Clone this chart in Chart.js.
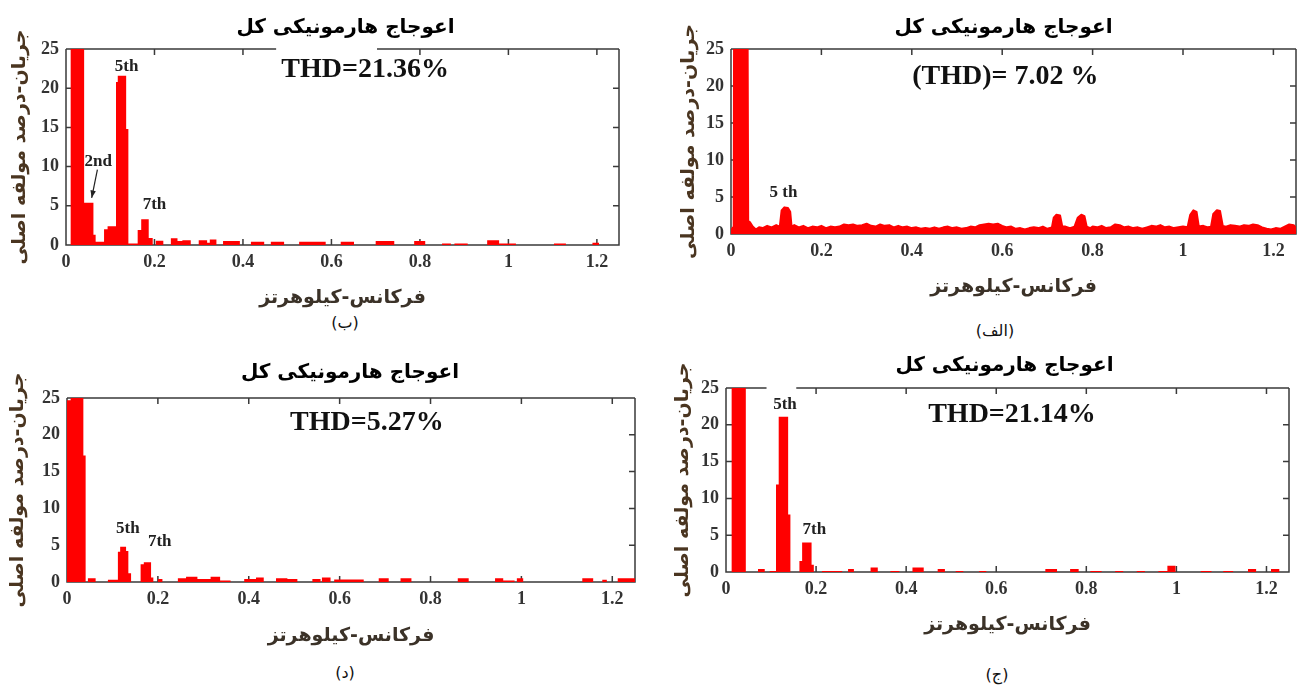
<!DOCTYPE html>
<html>
<head>
<meta charset="utf-8">
<script src="https://cdn.jsdelivr.net/npm/chart.js@4.4.1/dist/chart.umd.min.js"></script>
<style>
  body { margin: 0; background: #fff; width: 1301px; height: 689px; position: relative; overflow: hidden; }
  canvas { position: absolute; }
  .cap { position: absolute; font-family: 'DejaVu Sans', sans-serif; font-size: 16px; color: #111; transform: translate(-50%, -50%); white-space: nowrap; }
</style>
</head>
<body>
<canvas id="pB"></canvas>
<canvas id="pAlef"></canvas>
<canvas id="pD"></canvas>
<canvas id="pJ"></canvas>
<div class="cap" style="left:345px; top:322px;">(ب)</div>
<div class="cap" style="left:995px; top:330px;">(الف)</div>
<div class="cap" style="left:345px; top:672px;">(د)</div>
<div class="cap" style="left:997px; top:674px;">(ج)</div>
<script>
// محورها
const xTicks = [0, 0.2, 0.4, 0.6, 0.8, 1, 1.2];
const yTicks = [0, 5, 10, 15, 20, 25];
const xMax = 1.25;

const titleText = 'اعوجاج هارمونیکی کل';
const xTitle = 'فرکانس-کیلوهرتز';
const yTitle = 'جریان-درصد مولفه اصلی';

// (ب) - طیف پله ای: هر مقدار از فرکانس خودش تا فرکانس بعدی
const freqB = [0.010, 0.041, 0.062, 0.067, 0.086, 0.094, 0.113, 0.117, 0.136, 0.141,
               0.162, 0.170, 0.187, 0.196, 0.203, 0.220, 0.237, 0.252, 0.263, 0.282,
               0.300, 0.319, 0.325, 0.340, 0.355, 0.393, 0.418, 0.448, 0.463, 0.493,
               0.527, 0.587, 0.621, 0.651, 0.700, 0.742, 0.787, 0.812, 0.850, 0.870,
               0.878, 0.908, 0.952, 0.979, 1.017, 1.103, 1.130, 1.190, 1.205];
const magB  = [100, 5.4, 1.3, 0.4, 2.0, 2.4, 20.8, 21.6, 14.8, 0.2,
               1.9, 3.3, 0.9, 0, 0.55, 0, 0.85, 0.5, 0.6, 0,
               0.6, 0.3, 0.7, 0, 0.5, 0, 0.4, 0, 0.4, 0,
               0.4, 0, 0.4, 0, 0.5, 0, 0.5, 0, 0.2, 0,
               0.2, 0, 0.6, 0.2, 0, 0.2, 0, 0.3, 0];

// (الف) - طیف پیوسته
const freqAlef = [0, 0.006, 0.009, 0.020, 0.033, 0.038, 0.042, 0.048, 0.055, 0.062,
                  0.07, 0.08, 0.09, 0.1, 0.108, 0.112, 0.118, 0.126, 0.131, 0.134,
                  0.14, 0.15, 0.16, 0.17, 0.18, 0.19, 0.2, 0.21, 0.22, 0.23,
                  0.24, 0.25, 0.26, 0.27, 0.28, 0.29, 0.3, 0.31, 0.32, 0.33,
                  0.34, 0.35, 0.36, 0.37, 0.38, 0.39, 0.4, 0.41, 0.42, 0.43,
                  0.44, 0.45, 0.46, 0.47, 0.48, 0.49, 0.5, 0.51, 0.52, 0.53,
                  0.54, 0.55, 0.56, 0.57, 0.58, 0.59, 0.6, 0.61, 0.62, 0.63,
                  0.64, 0.65, 0.66, 0.67, 0.68, 0.69, 0.7, 0.71, 0.714, 0.72,
                  0.728, 0.733, 0.74, 0.75, 0.76, 0.767, 0.775, 0.782, 0.787, 0.795,
                  0.8, 0.81, 0.82, 0.83, 0.84, 0.85, 0.86, 0.87, 0.88, 0.89,
                  0.9, 0.91, 0.92, 0.93, 0.94, 0.95, 0.96, 0.97, 0.98, 0.99,
                  1.0, 1.01, 1.016, 1.023, 1.03, 1.035, 1.045, 1.055, 1.062, 1.067,
                  1.075, 1.082, 1.088, 1.095, 1.105, 1.115, 1.125, 1.135, 1.145, 1.155,
                  1.165, 1.175, 1.185, 1.195, 1.205, 1.215, 1.225, 1.235, 1.245, 1.25];
const magAlef  = [0.5, 1.0, 100, 100, 100, 1.8, 1.6, 1.0, 0.6, 0.9,
                  0.8, 1.1, 0.9, 1.2, 1.0, 3.2, 3.6, 3.5, 3.0, 1.0,
                  1.2, 0.9, 1.1, 0.8, 1.0, 0.9, 1.1, 0.8, 1.0, 0.9,
                  1.0, 1.3, 1.2, 1.3, 1.1, 1.2, 1.4, 1.1, 1.0, 1.3,
                  1.1, 1.2, 0.9, 1.1, 0.9, 1.0, 0.8, 0.9, 0.7, 0.8,
                  0.7, 0.9, 0.7, 0.9, 1.0, 0.8, 0.9, 0.7, 0.8, 1.0,
                  0.9, 1.2, 1.3, 1.4, 1.3, 1.4, 1.1, 0.9, 1.0, 0.7,
                  0.8, 0.6, 0.8, 0.9, 0.8, 1.0, 0.7, 0.9, 2.2, 2.6,
                  2.5, 1.0, 1.0, 0.8, 1.0, 2.2, 2.6, 2.4, 1.0, 0.8,
                  1.0, 0.9, 1.1, 0.8, 0.9, 1.3, 1.2, 0.9, 1.0, 0.8,
                  0.9, 0.7, 0.9, 1.1, 1.0, 1.2, 0.9, 1.0, 0.8, 0.9,
                  1.0, 0.9, 2.6, 3.2, 3.0, 1.0, 1.1, 0.9, 1.0, 2.7,
                  3.2, 3.1, 1.1, 1.0, 1.2, 1.1, 1.0, 1.2, 1.1, 1.3,
                  1.2, 0.9, 0.7, 0.6, 0.8, 0.7, 1.0, 1.3, 1.2, 0.8];

// (د)
const freqD = [0, 0.008, 0.036, 0.041, 0.046, 0.063, 0.090, 0.112, 0.117, 0.130,
               0.135, 0.141, 0.162, 0.169, 0.185, 0.190, 0.200, 0.210, 0.244, 0.262,
               0.287, 0.316, 0.337, 0.360, 0.390, 0.416, 0.433, 0.460, 0.485, 0.507,
               0.540, 0.558, 0.561, 0.580, 0.588, 0.653, 0.686, 0.708, 0.734, 0.758,
               0.860, 0.884, 0.942, 0.960, 0.985, 0.990, 1.004, 1.134, 1.158, 1.178,
               1.188, 1.212, 1.250];
const magD  = [24.7, 100, 17.2, 0, 0.5, 0, 0.3, 4.1, 4.8, 4.2,
               1.2, 0, 2.4, 2.7, 0.6, 0, 0.4, 0, 0.5, 0.7,
               0.4, 0.7, 0.2, 0, 0.4, 0.6, 0, 0.5, 0.4, 0,
               0.4, 0, 0.6, 0, 0.35, 0, 0.5, 0, 0.5, 0,
               0.5, 0, 0.5, 0.2, 0, 0.5, 0, 0.5, 0, 0.3,
               0, 0.5, 0.5];

// (ج)
const freqJ = [0.012, 0.044, 0.071, 0.086, 0.097, 0.111, 0.117, 0.138, 0.143, 0.163,
               0.169, 0.190, 0.195, 0.213, 0.258, 0.271, 0.284, 0.321, 0.337, 0.365,
               0.385, 0.414, 0.439, 0.470, 0.486, 0.510, 0.527, 0.562, 0.578, 0.709,
               0.735, 0.764, 0.783, 0.809, 0.834, 0.864, 0.882, 0.912, 0.930, 0.960,
               0.980, 0.998, 1.054, 1.078, 1.104, 1.126, 1.159, 1.177, 1.210, 1.229];
const magJ  = [100, 0, 0.4, 0, 0.15, 11.9, 21.1, 7.8, 0, 1.5,
               4.0, 1.0, 0, 0.15, 0, 0.4, 0, 0.6, 0, 0.15,
               0, 0.6, 0, 0.4, 0, 0.15, 0, 0.15, 0, 0.4,
               0, 0.4, 0, 0.15, 0, 0.15, 0, 0.15, 0, 0.15,
               0.85, 0, 0.15, 0, 0.15, 0, 0.4, 0, 0.4, 0];

// متن THD و برچسب هارمونیک ها (مختصات داده)
const thdB = ['THD=21.36%', 0.676, 22.3];
const thdAlef = ['(THD)= 7.02 %', 0.607, 21.3];
const thdD = ['THD=5.27%', 0.66, 21.6];
const thdJ = ['THD=21.14%', 0.635, 21.3];
const labelsB = [['5th', 0.137, 22.8], ['2nd', 0.073, 10.6], ['7th', 0.200, 5.1]];
const labelsAlef = [['5 th', 0.116, 5.6]];
const labelsD = [['5th', 0.134, 7.2], ['7th', 0.204, 5.5]];
const labelsJ = [['5th', 0.131, 22.8], ['7th', 0.196, 5.7]];
const arrowB = [0.071, 9.6, 0.058, 6.0];

// رسم کادر با تیک های داخلی (سبک متلب)
const framePlugin = {
  id: 'frame',
  beforeDatasetsDraw(chart) {
    const { ctx, chartArea: a, scales: { x, y } } = chart;
    const gap = chart.options.plugins.frame.gap;
    const g0 = gap ? x.getPixelForValue(gap[0]) : null;
    const g1 = gap ? x.getPixelForValue(gap[1]) : null;
    ctx.save();
    ctx.strokeStyle = '#3a3a3a';
    ctx.lineWidth = 1.5;
    ctx.beginPath();
    if (gap) {
      ctx.moveTo(a.left, a.top); ctx.lineTo(g0, a.top);
      ctx.moveTo(g1, a.top); ctx.lineTo(a.right, a.top);
    } else {
      ctx.moveTo(a.left, a.top); ctx.lineTo(a.right, a.top);
    }
    ctx.moveTo(a.right, a.top); ctx.lineTo(a.right, a.bottom);
    ctx.lineTo(a.left, a.bottom); ctx.lineTo(a.left, a.top);
    xTicks.forEach(v => {
      const px = x.getPixelForValue(v);
      ctx.moveTo(px, a.bottom); ctx.lineTo(px, a.bottom - 6);
      if (!gap || px < g0 || px > g1) { ctx.moveTo(px, a.top); ctx.lineTo(px, a.top + 6); }
    });
    yTicks.forEach(v => {
      const py = y.getPixelForValue(v);
      ctx.moveTo(a.left, py); ctx.lineTo(a.left + 6, py);
      ctx.moveTo(a.right, py); ctx.lineTo(a.right - 6, py);
    });
    ctx.stroke();
    ctx.restore();
  }
};

// عنوان، THD و برچسب ها
const textPlugin = {
  id: 'texts',
  afterDatasetsDraw(chart) {
    const { ctx, chartArea: a, scales: { x, y } } = chart;
    const o = chart.options.plugins.texts;
    ctx.save();
    ctx.fillStyle = '#000';
    ctx.textAlign = 'center';
    ctx.textBaseline = 'middle';
    ctx.font = 'bold 20px "DejaVu Sans"';
    ctx.fillText(titleText, (a.left + a.right) / 2 + o.titleDx, a.top - o.titleGap);
    ctx.fillStyle = '#111';
    ctx.font = 'bold 28px "Liberation Serif"';
    ctx.fillText(o.thd[0], x.getPixelForValue(o.thd[1]), y.getPixelForValue(o.thd[2]));
    ctx.fillStyle = '#222';
    ctx.font = 'bold 17px "Liberation Serif"';
    o.labels.forEach(l => ctx.fillText(l[0], x.getPixelForValue(l[1]), y.getPixelForValue(l[2])));
    if (o.arrow) {
      const x0 = x.getPixelForValue(o.arrow[0]), y0 = y.getPixelForValue(o.arrow[1]);
      const x1 = x.getPixelForValue(o.arrow[2]), y1 = y.getPixelForValue(o.arrow[3]);
      const ang = Math.atan2(y1 - y0, x1 - x0);
      ctx.strokeStyle = '#222';
      ctx.lineWidth = 1.2;
      ctx.beginPath(); ctx.moveTo(x0, y0); ctx.lineTo(x1, y1); ctx.stroke();
      ctx.beginPath();
      ctx.moveTo(x1, y1);
      ctx.lineTo(x1 - 8 * Math.cos(ang - 0.35), y1 - 8 * Math.sin(ang - 0.35));
      ctx.lineTo(x1 - 8 * Math.cos(ang + 0.35), y1 - 8 * Math.sin(ang + 0.35));
      ctx.closePath(); ctx.fill();
    }
    ctx.restore();
  }
};

const tickFont = { family: 'Liberation Serif', size: 18, weight: 'bold' };
const axisTitleFont = { family: 'DejaVu Sans', size: 19, weight: 'bold', lineHeight: 1.2 };

// ساخت هر نمودار؛ box = جای بوم روی صفحه، plot = جای کادر داده
function makePanel(id, box, plot, freq, mag, stepped, extra) {
  const cv = document.getElementById(id);
  cv.width = box.w; cv.height = box.h;
  cv.style.left = box.x + 'px'; cv.style.top = box.y + 'px';
  cv.style.width = box.w + 'px'; cv.style.height = box.h + 'px';
  const lh = axisTitleFont.size * axisTitleFont.lineHeight;
  const points = freq.map((f, i) => ({ x: f, y: mag[i] }));

  return new Chart(cv, {
    type: 'line',
    data: {
      datasets: [{
        data: points,
        stepped: stepped,
        fill: 'origin',
        backgroundColor: '#ff0000',
        borderColor: '#ff0000',
        borderWidth: stepped ? 0 : 2,
        borderJoinStyle: 'round',
        pointRadius: 0,
        tension: 0
      }]
    },
    options: {
      responsive: false,
      animation: false,
      layout: { padding: { left: 0, top: plot.t - box.y, right: box.x + box.w - plot.r, bottom: 0 } },
      plugins: {
        legend: { display: false },
        tooltip: { enabled: false },
        frame: { gap: extra.gap },
        texts: extra
      },
      scales: {
        x: {
          type: 'linear', min: 0, max: xMax,
          afterBuildTicks: s => { s.ticks = xTicks.map(v => ({ value: v })); },
          afterFit: s => { s.height = box.y + box.h - plot.b; },
          grid: { display: false, drawTicks: false },
          border: { display: false },
          ticks: { font: tickFont, color: '#333', padding: 7, maxRotation: 0, autoSkip: false, callback: v => String(v) },
          title: { display: true, text: xTitle, font: axisTitleFont, color: '#3b3228',
                   padding: { top: 0, bottom: (box.y + box.h - extra.xTitleY) - lh / 2 } }
        },
        y: {
          min: 0, max: 25,
          afterBuildTicks: s => { s.ticks = yTicks.map(v => ({ value: v })); },
          afterFit: s => { s.width = plot.l - box.x; },
          grid: { display: false, drawTicks: false },
          border: { display: false },
          ticks: { font: tickFont, color: '#333', padding: 7, callback: v => String(v) },
          title: { display: true, text: yTitle, font: axisTitleFont, color: '#4a3520',
                   padding: { top: extra.yTitleX - box.x - lh / 2, bottom: 0 } }
        }
      }
    },
    plugins: [framePlugin, textPlugin]
  });
}

makePanel('pB', { x: 0, y: 0, w: 650, h: 310 }, { l: 66, r: 619, t: 49, b: 245 }, freqB, magB, true,
  { thd: thdB, labels: labelsB, arrow: arrowB, gap: [0.475, 0.703], titleGap: 21, titleDx: 3, xTitleY: 298, yTitleX: 20 });
makePanel('pAlef', { x: 650, y: 0, w: 651, h: 300 }, { l: 731, r: 1296, t: 49, b: 234 }, freqAlef, magAlef, false,
  { thd: thdAlef, labels: labelsAlef, arrow: null, gap: null, titleGap: 21, titleDx: -10, xTitleY: 287, yTitleX: 689 });
makePanel('pD', { x: 0, y: 345, w: 650, h: 305 }, { l: 67, r: 635, t: 398, b: 582 }, freqD, magD, true,
  { thd: thdD, labels: labelsD, arrow: null, gap: null, titleGap: 25, titleDx: -1, xTitleY: 636, yTitleX: 18 });
makePanel('pJ', { x: 650, y: 345, w: 651, h: 295 }, { l: 726, r: 1289, t: 388, b: 572 }, freqJ, magJ, true,
  { thd: thdJ, labels: labelsJ, arrow: null, gap: [0.09, 0.156], titleGap: 22, titleDx: -3, xTitleY: 625, yTitleX: 683 });
</script>
</body>
</html>
